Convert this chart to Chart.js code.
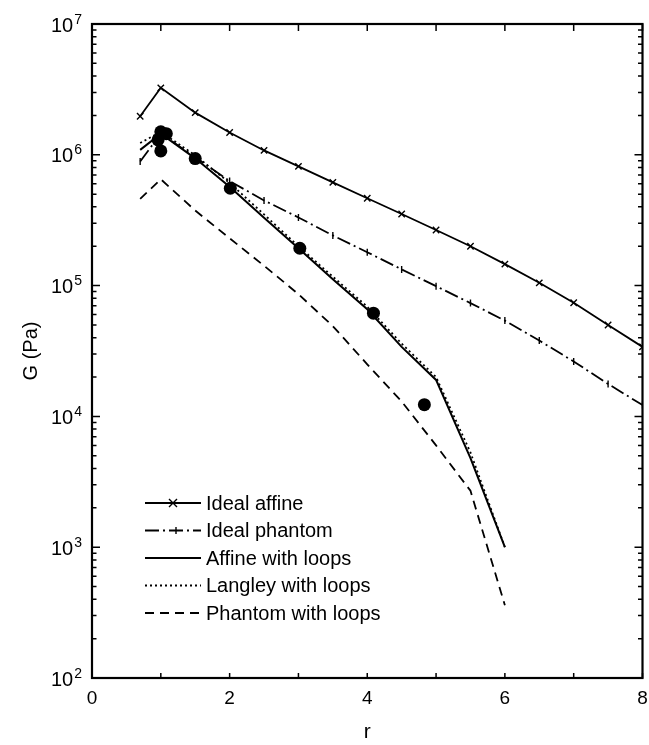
<!DOCTYPE html>
<html>
<head>
<meta charset="utf-8">
<script src="https://cdn.jsdelivr.net/npm/chart.js@4.4.1/dist/chart.umd.min.js"></script>
<style>
  html, body { margin: 0; padding: 0; background: #fff; }
  #wrap { width: 649px; height: 745px; }
</style>
</head>
<body>
<div id="wrap"><canvas id="chart1"></canvas></div>
<script>
// data
const seriesNames = ['Ideal affine', 'Ideal phantom', 'Affine with loops', 'Langley with loops', 'Phantom with loops'];

const rIdeal = [0.7, 1, 1.5, 2, 2.5, 3, 3.5, 4, 4.5, 5, 5.5, 6, 6.5, 7, 7.5, 8];
const idealAffine = [1.97e6, 3.25e6, 2.1e6, 1.48e6, 1.08e6, 8.15e5, 6.15e5, 4.65e5, 3.53e5, 2.66e5, 2.0e5, 1.46e5, 1.05e5, 7.4e4, 5.0e4, 3.4e4];
const idealPhantom = [8.9e5, 1.45e6, 9.6e5, 6.3e5, 4.48e5, 3.32e5, 2.42e5, 1.8e5, 1.33e5, 9.9e4, 7.35e4, 5.4e4, 3.8e4, 2.63e4, 1.77e4, 1.22e4];

const rLoops = [0.7, 1, 1.5, 2, 2.5, 3, 3.5, 4, 4.5, 5, 5.5, 6];
const affineLoops = [1.09e6, 1.45e6, 9.4e5, 5.7e5, 3.3e5, 1.93e5, 1.12e5, 6.6e4, 3.4e4, 1.9e4, 4.8e3, 1.0e3];
const langleyLoops = [1.23e6, 1.5e6, 9.9e5, 6.1e5, 3.5e5, 2.0e5, 1.17e5, 6.9e4, 3.6e4, 2.0e4, 5.3e3, 1.0e3];
const phantomLoops = [4.6e5, 6.5e5, 3.75e5, 2.3e5, 1.42e5, 8.6e4, 4.9e4, 2.5e4, 1.3e4, 6.0e3, 2.7e3, 3.6e2];

const exptR = [0.96, 1.0, 1.08, 1.0, 1.5, 2.01, 3.02, 4.09, 4.83];
const exptG = [1.3e6, 1.5e6, 1.45e6, 1.07e6, 9.35e5, 5.55e5, 1.93e5, 6.15e4, 1.23e4];

const xTicks = [0, 2, 4, 6, 8];
const yExponents = [2, 3, 4, 5, 6, 7];

function pts(xs, ys) {
    return xs.map((x, i) => ({ x: x, y: ys[i] }));
}

const fontFam = '"Liberation Sans", Arial, Helvetica, sans-serif';
const ink = '#000';

const lineStyles = [
    { borderDash: [], marker: 'cross' },
    { borderDash: [14, 4, 2, 4], marker: 'tick' },
    { borderDash: [], marker: null },
    { borderDash: [2, 3], marker: null },
    { borderDash: [9, 6], marker: null },
];

// box, inside ticks, y labels with exponents, legend
const framePlugin = {
    id: 'frame',
    afterDraw(chart) {
        const ctx = chart.ctx;
        const a = chart.chartArea;
        const xs = chart.scales.x, ys = chart.scales.y;
        ctx.save();
        ctx.strokeStyle = ink;
        ctx.fillStyle = ink;

        // ticks on all four sides, pointing in
        ctx.lineWidth = 1.5;
        ctx.beginPath();
        for (let v = 0; v <= 8; v++) {
            const px = xs.getPixelForValue(v);
            ctx.moveTo(px, a.bottom); ctx.lineTo(px, a.bottom - 5);
            ctx.moveTo(px, a.top); ctx.lineTo(px, a.top + 7);
        }
        for (let e = 2; e <= 7; e++) {
            for (let m = 1; m <= 9; m++) {
                if (e === 7 && m > 1) break;
                const py = ys.getPixelForValue(m * Math.pow(10, e));
                const len = m === 1 ? 8 : 4.5;
                ctx.moveTo(a.left, py); ctx.lineTo(a.left + len, py);
                ctx.moveTo(a.right, py); ctx.lineTo(a.right - len, py);
            }
        }
        ctx.stroke();

        ctx.lineWidth = 2.2;
        ctx.strokeRect(a.left, a.top, a.right - a.left, a.bottom - a.top);

        // y tick labels 10^n
        yExponents.forEach(e => {
            const py = ys.getPixelForValue(Math.pow(10, e));
            ctx.font = '14px ' + fontFam;
            ctx.textAlign = 'right';
            ctx.textBaseline = 'alphabetic';
            const expW = ctx.measureText(String(e)).width;
            const right = a.left - 10;
            ctx.fillText(String(e), right, py - 0.5);
            ctx.font = '20px ' + fontFam;
            ctx.fillText('10', right - expW - 1, py + 7.5);
        });

        // legend
        const rowY = [503, 530.5, 558, 585.5, 613];
        chart.data.datasets.slice(0, 5).forEach((ds, i) => {
            const y = rowY[i];
            const st = lineStyles[i];
            ctx.lineWidth = ds.borderWidth;
            ctx.setLineDash(st.borderDash);
            ctx.beginPath();
            ctx.moveTo(145, y); ctx.lineTo(201, y);
            ctx.stroke();
            ctx.setLineDash([]);
            ctx.lineWidth = 1.4;
            if (st.marker === 'cross') {
                ctx.beginPath();
                ctx.moveTo(169, y - 4); ctx.lineTo(177, y + 4);
                ctx.moveTo(177, y - 4); ctx.lineTo(169, y + 4);
                ctx.stroke();
            } else if (st.marker === 'tick') {
                ctx.beginPath();
                ctx.moveTo(176, y - 3.5); ctx.lineTo(176, y + 3.5);
                ctx.stroke();
            }
            ctx.font = '20px ' + fontFam;
            ctx.textAlign = 'left';
            ctx.textBaseline = 'middle';
            ctx.fillText(seriesNames[i], 206, y + 1);
        });
        ctx.restore();
    }
};

const ctx1 = document.getElementById('chart1');

new Chart(ctx1, {
    type: 'scatter',
    data: {
        datasets: [
            {
                label: seriesNames[0],
                data: pts(rIdeal, idealAffine),
                showLine: true,
                borderColor: ink,
                borderWidth: 1.8,
                pointStyle: 'crossRot',
                pointRadius: 4.5,
                pointBorderWidth: 1.4,
                pointBorderColor: ink,
            },
            {
                label: seriesNames[1],
                data: pts(rIdeal, idealPhantom),
                showLine: true,
                borderColor: ink,
                borderWidth: 1.8,
                borderDash: lineStyles[1].borderDash,
                pointStyle: 'line',
                rotation: 90,
                pointRadius: 3.5,
                pointBorderWidth: 1.4,
                pointBorderColor: ink,
            },
            {
                label: seriesNames[2],
                data: pts(rLoops, affineLoops),
                showLine: true,
                borderColor: ink,
                borderWidth: 2,
                pointRadius: 0,
            },
            {
                label: seriesNames[3],
                data: pts(rLoops, langleyLoops),
                showLine: true,
                borderColor: ink,
                borderWidth: 1.8,
                borderDash: lineStyles[3].borderDash,
                pointRadius: 0,
            },
            {
                label: seriesNames[4],
                data: pts(rLoops, phantomLoops),
                showLine: true,
                borderColor: ink,
                borderWidth: 1.8,
                borderDash: lineStyles[4].borderDash,
                pointRadius: 0,
            },
            {
                label: 'Experiment',
                data: pts(exptR, exptG),
                showLine: false,
                pointStyle: 'circle',
                pointRadius: 6.5,
                backgroundColor: ink,
                borderColor: ink,
                pointBorderWidth: 0,
            },
        ]
    },
    plugins: [framePlugin],
    options: {
        responsive: true,
        maintainAspectRatio: false,
        animation: false,
        events: [],
        layout: {
            padding: { top: 24, right: 6, left: 0, bottom: 0 }
        },
        plugins: {
            legend: { display: false },
            tooltip: { enabled: false },
        },
        scales: {
            x: {
                type: 'linear',
                min: 0,
                max: 8,
                border: { display: false },
                grid: { display: false, drawTicks: false },
                afterBuildTicks: (scale) => {
                    scale.ticks = xTicks.map(v => ({ value: v }));
                },
                afterFit: (scale) => {
                    scale.height = 67;
                    scale.paddingLeft = 0;
                    scale.paddingRight = 0;
                },
                ticks: {
                    padding: 9,
                    color: ink,
                    maxRotation: 0,
                    font: { size: 19, family: fontFam },
                },
                title: {
                    display: true,
                    text: 'r',
                    color: ink,
                    font: { size: 21, family: fontFam },
                    padding: { top: 0, bottom: 0 },
                },
            },
            y: {
                type: 'logarithmic',
                min: 100,
                max: 1e7,
                border: { display: false },
                grid: { display: false, drawTicks: false },
                ticks: { display: false },
                afterFit: (scale) => {
                    scale.width = 92;
                    scale.paddingTop = 0;
                    scale.paddingBottom = 0;
                },
                title: {
                    display: true,
                    text: 'G (Pa)',
                    color: ink,
                    font: { size: 20, family: fontFam },
                    padding: { top: 19, bottom: 0 },
                },
            }
        }
    }
});
</script>
</body>
</html>
